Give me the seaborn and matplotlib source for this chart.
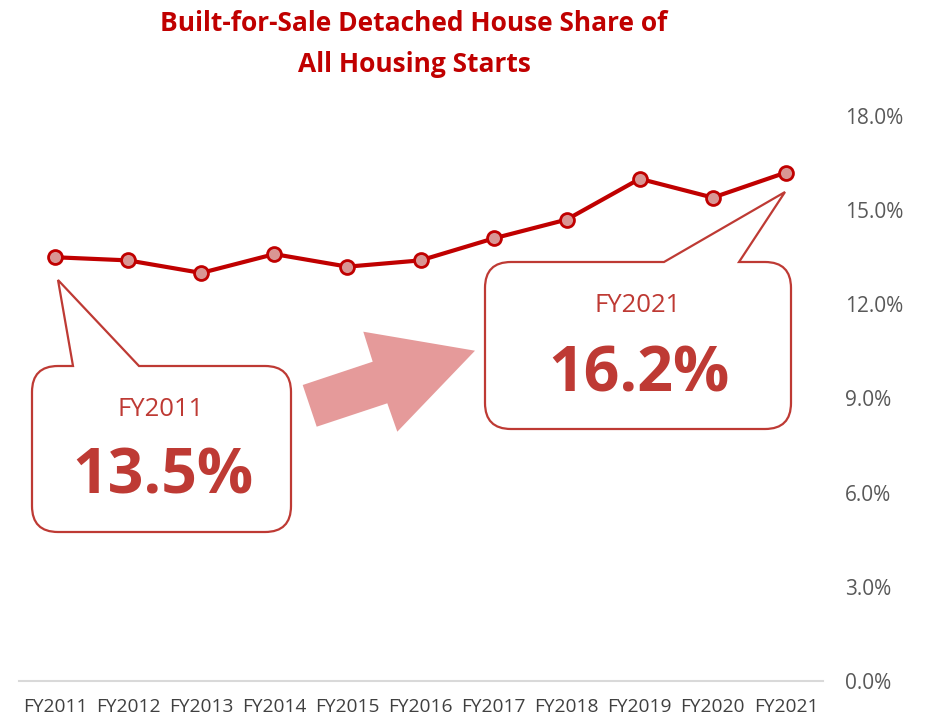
import matplotlib
matplotlib.use("Agg")
import matplotlib.pyplot as plt
from matplotlib.path import Path
from matplotlib.patches import PathPatch, Polygon
import seaborn as sns
import pandas as pd

# Fiscal years and built-for-sale detached share of all housing starts (%)
years = ["FY2011", "FY2012", "FY2013", "FY2014", "FY2015", "FY2016",
         "FY2017", "FY2018", "FY2019", "FY2020", "FY2021"]
share = [13.5, 13.4, 13.0, 13.6, 13.2, 13.4, 14.1, 14.7, 16.0, 15.4, 16.2]
y_ticks = [0, 3, 6, 9, 12, 15, 18]
title_lines = ["Built-for-Sale Detached House Share of", "All Housing Starts"]

df = pd.DataFrame({"year": years, "share": share})

W, H = 930, 717
LINE_RED = "#C00000"
BOX_RED = "#BE3A34"
MARKER_FILL = "#D99694"
ARROW_PINK = "#E59A9A"
GREY = "#595959"

sns.set_theme(style="white")
plt.rcParams["font.family"] = ["Open Sans", "DejaVu Sans"]

fig = plt.figure(figsize=(W / 100, H / 100), dpi=100)


def fx(x):
    return x / W


def fy(y):
    return 1 - y / H


ax = fig.add_axes([fx(18.5), fy(681), fx(822.5) - fx(18.5), fy(116) - fy(681)])

sns.lineplot(data=df, x="year", y="share", sort=False, ax=ax,
             color=LINE_RED, linewidth=3.0, marker="o", markersize=10,
             markerfacecolor=MARKER_FILL, markeredgecolor=LINE_RED,
             markeredgewidth=2.0)

ax.set_xlim(-0.5, len(years) - 0.5)
ax.set_ylim(0, 18)
ax.set_xlabel("")
ax.set_ylabel("")
ax.yaxis.tick_right()
ax.set_yticks(y_ticks)
ax.set_yticklabels([f"{v:.1f}%" for v in y_ticks])
ax.tick_params(axis="y", length=0, pad=16, labelsize=15, labelcolor=GREY)
ax.tick_params(axis="x", length=0, pad=12, labelcolor="#404040")
for lbl in ax.get_xticklabels():
    lbl.set_fontfamily(["Liberation Sans Narrow", "Open Sans", "DejaVu Sans"])
    lbl.set_fontsize(13.8)
for side in ["top", "left", "right"]:
    ax.spines[side].set_visible(False)
ax.spines["bottom"].set_color("#D9D9D9")
ax.spines["bottom"].set_linewidth(1.5)
ax.grid(False)

# Title (two centred lines)
fig.text(fx(414), fy(31), title_lines[0], ha="center", va="baseline",
         fontsize=19, fontweight="bold", color=LINE_RED)
fig.text(fx(414), fy(72), title_lines[1], ha="center", va="baseline",
         fontsize=19, fontweight="bold", color=LINE_RED)


def callout(x0, y0, x1, y1, r, b1, b2, tip):
    pts = [
        ((x0 + r, y0), Path.MOVETO),
        ((b1, y0), Path.LINETO),
        (tip, Path.LINETO),
        ((b2, y0), Path.LINETO),
        ((x1 - r, y0), Path.LINETO),
        ((x1, y0), Path.CURVE3), ((x1, y0 + r), Path.CURVE3),
        ((x1, y1 - r), Path.LINETO),
        ((x1, y1), Path.CURVE3), ((x1 - r, y1), Path.CURVE3),
        ((x0 + r, y1), Path.LINETO),
        ((x0, y1), Path.CURVE3), ((x0, y1 - r), Path.CURVE3),
        ((x0, y0 + r), Path.LINETO),
        ((x0, y0), Path.CURVE3), ((x0 + r, y0), Path.CURVE3),
        ((x0 + r, y0), Path.CLOSEPOLY),
    ]
    verts = [(fx(p[0]), fy(p[1])) for p, _ in pts]
    codes = [c for _, c in pts]
    patch = PathPatch(Path(verts, codes), facecolor="white", edgecolor=BOX_RED,
                      linewidth=1.6, transform=fig.transFigure, zorder=3)
    fig.add_artist(patch)


# Callout for the first year
callout(32, 366, 291, 532, 26, 73, 139, (58, 280))
fig.text(fx(161), fy(416), years[0], ha="center", va="baseline",
         fontsize=18.5, color=BOX_RED, zorder=4)
fig.text(fx(163), fy(493), f"{share[0]:.1f}%", ha="center", va="baseline",
         fontsize=45, fontweight="bold", color=BOX_RED, zorder=4)

# Callout for the latest year
callout(485, 262, 791, 429, 26, 664, 739, (785, 192))
fig.text(fx(638), fy(311.7), years[-1], ha="center", va="baseline",
         fontsize=18.5, color=BOX_RED, zorder=4)
fig.text(fx(639), fy(391.7), f"{share[-1]:.1f}%", ha="center", va="baseline",
         fontsize=45, fontweight="bold", color=BOX_RED, zorder=4)

# Block arrow between the two callouts
arrow_px = [(316.7, 426.7), (302.7, 385), (372.7, 361.7), (363.3, 331.7),
            (475, 350.7), (397.3, 431.7), (387.3, 403.3)]
fig.add_artist(Polygon([(fx(x), fy(y)) for x, y in arrow_px], closed=True,
                       facecolor=ARROW_PINK, edgecolor="none",
                       transform=fig.transFigure, zorder=2))

fig.savefig("out.png", dpi=100)
